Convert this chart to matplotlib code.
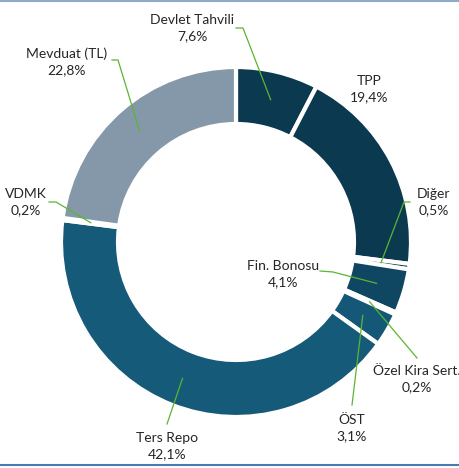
import numpy as np
import matplotlib.pyplot as plt
from matplotlib.lines import Line2D

# Data (clockwise from 12 o'clock)
labels = ['Devlet Tahvili', 'TPP', 'Diğer', 'Fin. Bonosu', 'Özel Kira Sert.',
          'ÖST', 'Ters Repo', 'VDMK', 'Mevduat (TL)']
shares = [7.6, 19.4, 0.5, 4.1, 0.2, 3.1, 42.1, 0.2, 22.8]
value_text = ['7,6%', '19,4%', '0,5%', '4,1%', '0,2%', '3,1%', '42,1%', '0,2%', '22,8%']
colors = ['#0B3A50', '#0B3A50', '#0B3A50', '#0F4661', '#114E6B',
          '#145777', '#165A79', '#165A79', '#8598AA']

# label layout in pixels (center of text block) and leader line knee points
label_pos = [(192, 28), (369, 89), (434, 202), (283, 274), (417, 379),
             (352, 428), (167, 446), (26, 202), (67, 62)]
leader_start = [[(236, 28), (243, 28)], None, [(410, 202), (404, 202)],
                [(320, 271), (333, 272)], [(417, 358)], [(352, 405)],
                [(167, 424)], [(49, 202), (56, 202)], [(112, 60), (118, 60)]]

W, H = 460, 468
cx, cy = 236, 242
R, ring = 175, 57

fig = plt.figure(figsize=(W / 100, H / 100), dpi=100)
ax = fig.add_axes([0, 0, 1, 1])

ax.pie(shares, colors=colors, startangle=90, counterclock=False, radius=R,
       wedgeprops=dict(width=ring, edgecolor='white', linewidth=3))
ax.set_xlim(-cx, W - cx)
ax.set_ylim(-(H - cy), cy)
ax.set_aspect('equal')
ax.axis('off')


def px(p):
    return p[0] - cx, cy - p[1]


cum = np.cumsum([0] + shares[:-1])
for i, name in enumerate(labels):
    x, y = px(label_pos[i])
    ax.text(x, y, name + '\n' + value_text[i], ha='center', va='center',
            fontsize=10, family='Lato', color='#262626', linespacing=1.45)
    if leader_start[i] is None:
        continue
    ang = np.deg2rad(90 - 360 * (cum[i] + shares[i] / 2) / 100)
    rm = R - ring / 2
    pts = [px(p) for p in leader_start[i]] + [(rm * np.cos(ang), rm * np.sin(ang))]
    xs, ys = zip(*pts)
    ax.plot(xs, ys, color='#5BB52F', linewidth=0.9)

# thin frame lines at top and bottom
fig.add_artist(Line2D([0, 1], [1 - 1 / H, 1 - 1 / H], color='#8FA9C8', linewidth=1.5))
fig.add_artist(Line2D([0, 1], [1 - 465 / H, 1 - 465 / H], color='#4A79AE', linewidth=1.5))

plt.savefig('out.png', dpi=100)
